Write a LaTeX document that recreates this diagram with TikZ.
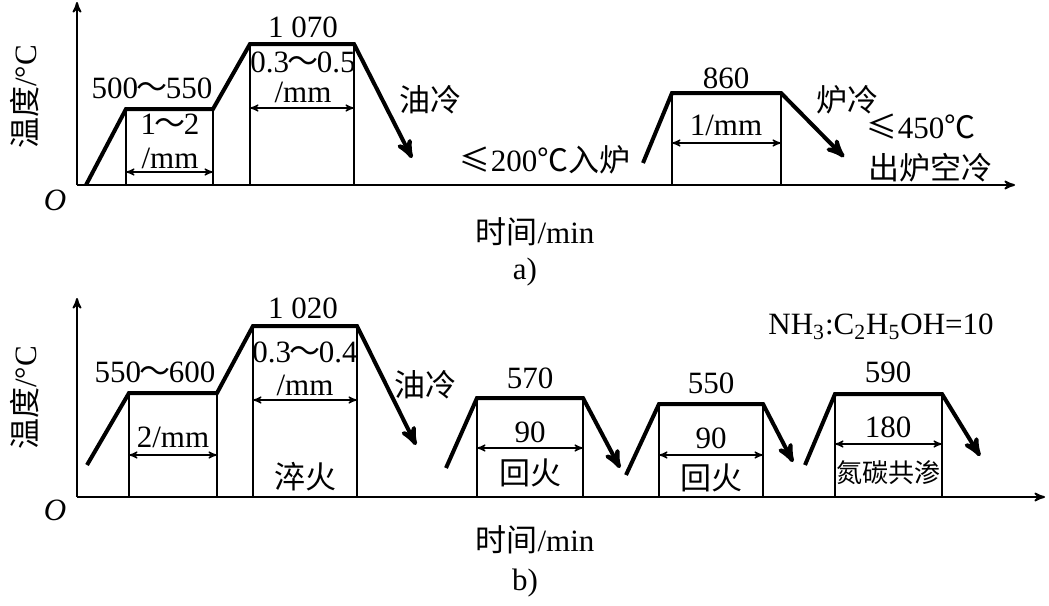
\documentclass[tikz,border=0pt]{standalone}
\usepackage{fontspec}
\setmainfont{Liberation Serif}
\newfontfamily\cjk{Noto Sans CJK SC}
\usetikzlibrary{arrows}

\newcommand{\tld}{\kern-0.05em{\cjk ～}\kern-0.05em}

\tikzset{
  heat/.style={line width=2pt,->},
  hold/.style={line width=0.6pt},
  dur/.style={line width=0.6pt,<->},
  axis/.style={line width=0.9pt,->}
}

\begin{document}
\begin{tikzpicture}[x=0.5pt,y=-0.5pt,>=stealth',font=\fontsize{15.5}{18}\selectfont]
\useasboundingbox (0,0) rectangle (1049,605);

% a)
\draw[axis] (77,185) -- (77,2);
\draw[axis] (77,185) -- (1015,185);
\draw[heat] (86,185) -- (126,109) -- (213,109) -- (250,44) -- (354,44) -- (412,158);
\draw[heat] (643,163) -- (672,93) -- (781,93) -- (844,157);
\foreach \x/\y in {126/109,213/109,250/44,354/44,672/93,781/93}
  \draw[hold] (\x,\y) -- (\x,185);
\draw[dur] (126,172) -- (213,172);
\draw[dur] (250,108) -- (354,108);
\draw[dur] (672,143) -- (781,143);

\node (a1) at (152,88) {500\tld550};
\node (a2) at (170,124) {1\tld2};
\node (a3) at (170,158) {/mm};
\node (a4) at (303,27) {1\hspace{0.25em}070};
\node (a5) at (303,62) {0.3\tld0.5};
\node (a6) at (303,92) {/mm};
\node (a7) at (430,100) {\cjk 油冷};
\node (a8) at (545,160) {{\cjk ≤}200{\cjk ℃入炉}};
\node (a9) at (726,78) {860};
\node (a10) at (726,125) {1/mm};
\node (a11) at (847,100) {\cjk 炉冷};
\node (a12) at (921,127) {{\cjk ≤}450{\cjk ℃}};
\node (a13) at (930,168) {\cjk 出炉空冷};
\node (ao) at (55,200) {\itshape O};
\node[rotate=90] (ay) at (25,97) {{\cjk 温度}/°C};
\node (ax) at (535,232) {{\cjk 时间}/min};
\node (acap) at (525,272) {a)};

% b)
\draw[axis] (77,497) -- (77,298);
\draw[axis] (77,497) -- (1045,497);
\draw[heat] (87,465) -- (129,393) -- (217,393) -- (253,326) -- (357,326) -- (416,445);
\draw[heat] (446,468) -- (477,398) -- (583,398) -- (620,468);
\draw[heat] (626,475) -- (659,404) -- (763,404) -- (793,462);
\draw[heat] (805,465) -- (835,394) -- (942,394) -- (980,456);
\foreach \x/\y in {129/393,217/393,253/326,357/326,477/398,583/398,659/404,763/404,835/394,942/394}
  \draw[hold] (\x,\y) -- (\x,497);
\draw[dur] (129,455) -- (217,455);
\draw[dur] (253,400) -- (357,400);
\draw[dur] (477,448) -- (583,448);
\draw[dur] (659,455) -- (763,455);
\draw[dur] (835,444) -- (942,444);

\node (b1) at (155,372) {550\tld600};
\node (b2) at (173,437) {2/mm};
\node (b3) at (303,308) {1\hspace{0.25em}020};
\node (b4) at (305,352) {0.3\tld0.4};
\node (b5) at (305,385) {/mm};
\node (b6) at (305,477) {\cjk 淬火};
\node (b7) at (425,385) {\cjk 油冷};
\node (b8) at (530,378) {570};
\node (b9) at (530,432) {90};
\node (b10) at (530,473) {\cjk 回火};
\node (b11) at (711,383) {550};
\node (b12) at (711,438) {90};
\node (b13) at (711,478) {\cjk 回火};
\node (b14) at (888,372) {590};
\node (b15) at (888,427) {180};
\node[font=\fontsize{13}{15}\selectfont] (b16) at (888,473) {\cjk 氮碳共渗};
\node (b17) at (881,327) {NH\textsubscript{3}:C\textsubscript{2}H\textsubscript{5}OH=10};
\node (bo) at (55,510) {\itshape O};
\node[rotate=90] (by) at (25,398) {{\cjk 温度}/°C};
\node (bx) at (535,540) {{\cjk 时间}/min};
\node (bcap) at (525,583) {b)};

\end{tikzpicture}
\end{document}
